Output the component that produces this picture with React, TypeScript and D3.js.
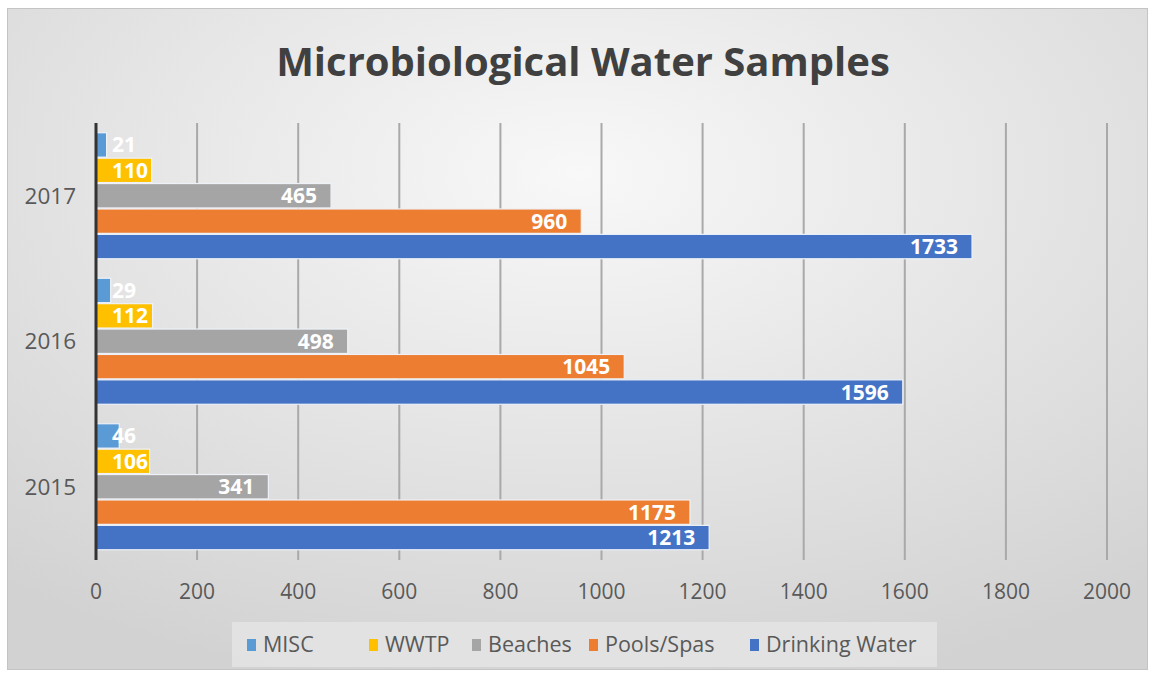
import React from "react";
import * as d3 from "d3";

const years = ["2017", "2016", "2015"];
const seriesNames = ["MISC", "WWTP", "Beaches", "Pools/Spas", "Drinking Water"];
const seriesColors = ["#5B9BD5", "#FFC000", "#A5A5A5", "#ED7D31", "#4472C4"];
const misc = [21, 29, 46];
const wwtp = [110, 112, 106];
const beaches = [465, 498, 341];
const pools = [960, 1045, 1175];
const drinking = [1733, 1596, 1213];
const xTicks = [0, 200, 400, 600, 800, 1000, 1200, 1400, 1600, 1800, 2000];

const FONT = "'Open Sans', 'Liberation Sans', sans-serif";

const App = () => {
  const svgRef = React.useRef<SVGSVGElement>(null);
  const width = 1150;
  const height = 677;

  React.useEffect(() => {
    const svgEl = d3.select(svgRef.current);
    svgEl.selectAll("*").remove();

    const values = [misc, wwtp, beaches, pools, drinking];

    // background
    const defs = svgEl.append("defs");
    const grad = defs
      .append("radialGradient")
      .attr("id", "bg")
      .attr("cx", "50%")
      .attr("cy", "25%")
      .attr("r", "80%");
    grad.append("stop").attr("offset", "0%").attr("stop-color", "#f8f8f8");
    grad.append("stop").attr("offset", "100%").attr("stop-color", "#d2d2d2");

    svgEl
      .append("rect")
      .attr("x", 7.5)
      .attr("y", 8.5)
      .attr("width", 1140)
      .attr("height", 661)
      .attr("fill", "url(#bg)")
      .attr("stroke", "#c4c4c4");

    // title
    svgEl
      .append("text")
      .attr("x", 583)
      .attr("y", 76)
      .attr("text-anchor", "middle")
      .attr("font-family", FONT)
      .attr("font-weight", "bold")
      .attr("font-size", 40)
      .attr("fill", "#404040")
      .text("Microbiological Water Samples");

    // scales
    const xScale = d3.scaleLinear().domain([0, 2000]).range([96, 1107]);
    const yScale = d3
      .scaleBand()
      .domain(years)
      .range([123, 559.5])
      .paddingInner(0.127)
      .paddingOuter(0.0635);
    const ySub = d3
      .scaleBand()
      .domain(seriesNames)
      .range([0, yScale.bandwidth()]);

    // gridlines
    svgEl
      .append("g")
      .selectAll("line")
      .data(xTicks.slice(1))
      .join("line")
      .attr("x1", (d) => xScale(d))
      .attr("x2", (d) => xScale(d))
      .attr("y1", 123)
      .attr("y2", 560)
      .attr("stroke", "#a9a9a9")
      .attr("stroke-width", 2);

    // x tick labels
    svgEl
      .append("g")
      .selectAll("text")
      .data(xTicks)
      .join("text")
      .attr("x", (d) => xScale(d))
      .attr("y", 599)
      .attr("text-anchor", "middle")
      .attr("font-family", FONT)
      .attr("font-size", 21)
      .attr("fill", "#595959")
      .text((d) => d);

    // year labels
    svgEl
      .append("g")
      .selectAll("text")
      .data(years)
      .join("text")
      .attr("x", 76)
      .attr("y", (d) => (yScale(d) as number) + yScale.bandwidth() / 2 + 8)
      .attr("text-anchor", "end")
      .attr("font-family", FONT)
      .attr("font-size", 22.5)
      .attr("fill", "#595959")
      .text((d) => d);

    // bars
    seriesNames.forEach((name, si) => {
      const g = svgEl.append("g");
      g.selectAll("rect")
        .data(values[si])
        .join("rect")
        .attr("x", xScale(0))
        .attr("y", (d, i) => (yScale(years[i]) as number) + (ySub(name) as number) + 0.5)
        .attr("width", (d) => xScale(d) - xScale(0))
        .attr("height", ySub.bandwidth() - 1)
        .attr("fill", seriesColors[si])
        .attr("stroke", "#eef2f8")
        .attr("stroke-width", 1.2);

      g.selectAll("text")
        .data(values[si])
        .join("text")
        .attr("y", (d, i) => (yScale(years[i]) as number) + (ySub(name) as number) + ySub.bandwidth() / 2 + 7.5)
        .attr("font-family", FONT)
        .attr("font-weight", "bold")
        .attr("font-size", 21)
        .attr("fill", "#ffffff")
        .each(function (d) {
          const labelW = String(d).length * 12.5;
          const endX = xScale(d) - 14;
          const t = d3.select(this);
          if (endX - labelW < xScale(0) + 16) {
            t.attr("x", xScale(0) + 16).attr("text-anchor", "start");
          } else {
            t.attr("x", endX).attr("text-anchor", "end");
          }
        })
        .text((d) => d);
    });

    // axis line
    svgEl
      .append("line")
      .attr("x1", xScale(0))
      .attr("x2", xScale(0))
      .attr("y1", 123)
      .attr("y2", 560)
      .attr("stroke", "#333333")
      .attr("stroke-width", 3);

    // legend
    const legend = svgEl.append("g");
    legend
      .append("rect")
      .attr("x", 232)
      .attr("y", 622)
      .attr("width", 705)
      .attr("height", 45)
      .attr("fill", "#e4e4e4")
      .attr("opacity", 0.85);
    const legendX = [247, 369, 472, 589, 750];
    seriesNames.forEach((name, i) => {
      legend
        .append("rect")
        .attr("x", legendX[i])
        .attr("y", 639)
        .attr("width", 9)
        .attr("height", 12)
        .attr("fill", seriesColors[i]);
      legend
        .append("text")
        .attr("x", legendX[i] + 16)
        .attr("y", 652)
        .attr("font-family", FONT)
        .attr("font-size", 21.5)
        .attr("fill", "#595959")
        .text(name);
    });
  }, []);

  return (
    <svg
      ref={svgRef}
      width={width}
      height={height}
      style={{ position: "absolute", left: 0, top: 0 }}
    />
  );
};

export default App;
